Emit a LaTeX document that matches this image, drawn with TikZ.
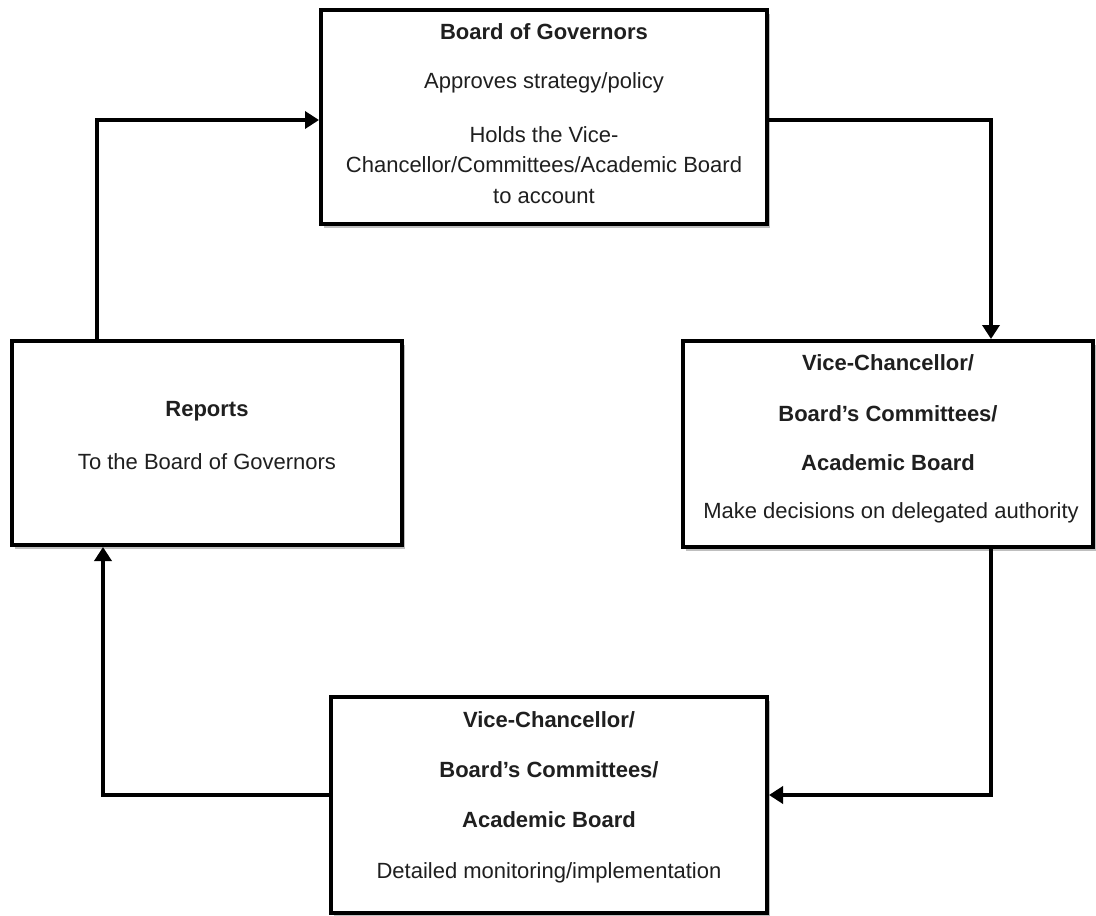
\documentclass[tikz,border=0pt]{standalone}
\usepackage{fontspec}
\setmainfont{Liberation Sans}
\usetikzlibrary{arrows.meta,shadows,positioning}
\begin{document}
\begin{tikzpicture}[x=1pt,y=-1pt,
  box/.style={draw=black,line width=4pt,fill=white,inner sep=0pt,
    drop shadow={shadow xshift=3pt,shadow yshift=-4pt,opacity=0.25,fill=black}},
  txt/.style={font=\fontsize{22}{26}\selectfont,text=black!88,inner sep=0pt,anchor=center},
  btxt/.style={txt,font=\fontsize{22}{26}\selectfont\bfseries},
  conn/.style={line width=4.5pt,-{Triangle[length=14pt,width=17pt]}}]
\useasboundingbox (0,0) rectangle (1096,916);
% boxes
\node[box,minimum width=446pt,minimum height=214pt] (top) at (544,117) {};
\node[box,minimum width=390pt,minimum height=204pt] (left) at (207,443) {};
\node[box,minimum width=410pt,minimum height=206pt] (right) at (888,444) {};
\node[box,minimum width=436pt,minimum height=216pt] (bottom) at (549,805) {};
% top box text
\node[btxt] (t1) at (544,32) {Board of Governors};
\node[txt] (t2) at (544,83) {Approves strategy/policy};
\node[txt] (t3) at (544,135) {Holds the Vice-};
\node[txt] (t4) at (544,165) {Chancellor/Committees/Academic Board};
\node[txt] (t5) at (544,196) {to account};
% left box text
\node[btxt] (l1) at (207,411) {Reports};
\node[txt] (l2) at (207,462) {To the Board of Governors};
% right box text
\node[btxt] (r1) at (888,363) {Vice-Chancellor/};
\node[btxt] (r2) at (888,414) {Board’s Committees/};
\node[btxt] (r3) at (888,463) {Academic Board};
\node[txt] (r4) at (891,513) {Make decisions on delegated authority};
% bottom box text
\node[btxt] (b1) at (549,720) {Vice-Chancellor/};
\node[btxt] (b2) at (549,770) {Board’s Committees/};
\node[btxt] (b3) at (549,820) {Academic Board};
\node[txt] (b4) at (549,873) {Detailed monitoring/implementation};
% connectors
\draw[conn] ([yshift=-3pt]top.east) -| ([xshift=103pt]right.north);
\draw[conn] ([xshift=103pt]right.south) |- ([yshift=10pt]bottom.east);
\draw[conn] ([yshift=10pt]bottom.west) -| ([xshift=-104pt]left.south);
\draw[conn] ([xshift=-110pt]left.north) |- ([yshift=-3pt]top.west);
\end{tikzpicture}
\end{document}
